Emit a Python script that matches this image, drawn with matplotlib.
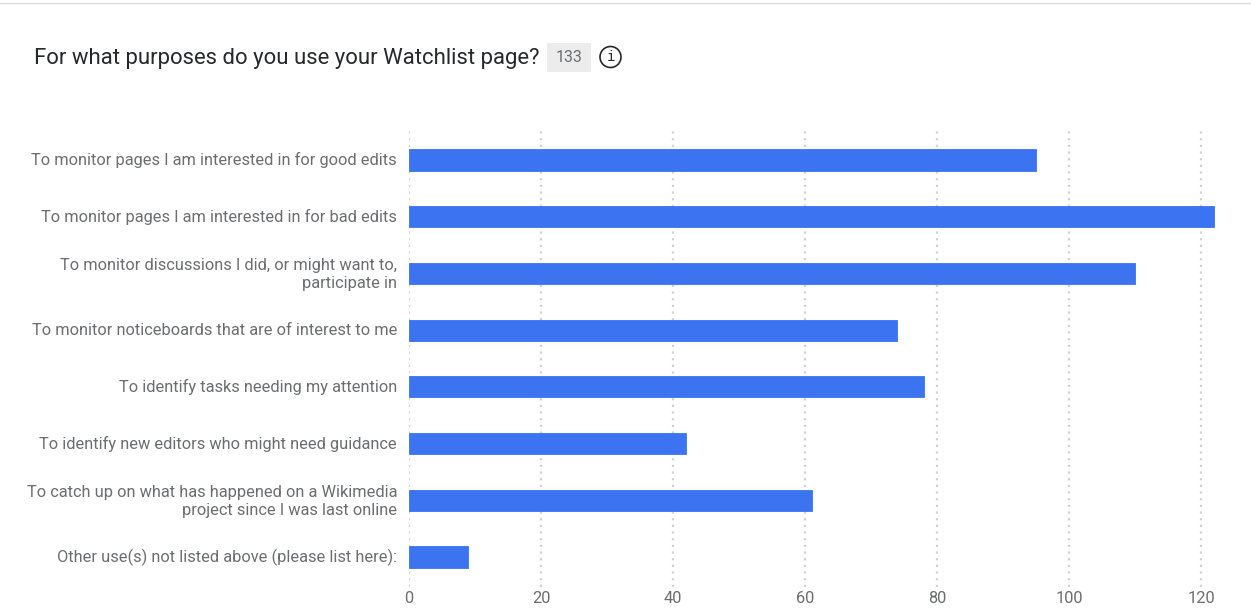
import matplotlib
matplotlib.use("Agg")
import matplotlib.pyplot as plt
from matplotlib.patches import Rectangle, Circle
from matplotlib.transforms import ScaledTranslation

categories = [
    "To monitor pages I am interested in for good edits",
    "To monitor pages I am interested in for bad edits",
    "To monitor discussions I did, or might want to,\nparticipate in",
    "To monitor noticeboards that are of interest to me",
    "To identify tasks needing my attention",
    "To identify new editors who might need guidance",
    "To catch up on what has happened on a Wikimedia\nproject since I was last online",
    "Other use(s) not listed above (please list here):",
]
values = [95, 122, 110, 74, 78, 42, 61, 9]
xticks = [0, 20, 40, 60, 80, 100, 120]
title = "For what purposes do you use your Watchlist page?"
count = "133"

W, H = 1251, 614
plt.rcParams['font.family'] = ['Roboto', 'DejaVu Sans']
fig = plt.figure(figsize=(W/100, H/100), dpi=100)
ax = fig.add_axes([409/W, 1-587/H, (1215-409)/W, (587-130)/H])
ypos = list(range(len(categories)))
ax.barh(ypos, values, height=0.375, color="#3b73f0", edgecolor="#3b73f0",
        linewidth=0.6, joinstyle='round', zorder=3)
ax.set_ylim(7.529, -0.529)
ax.set_xlim(0, 806/6.6)
ax.set_yticks(ypos)
ax.set_yticklabels(categories, fontsize=11.8, color="#6b6d70", linespacing=1.25)
ax.set_xticks(xticks)
ax.set_xticklabels(xticks, fontsize=11.8, color="#6b6d70")
ax.tick_params(axis='y', length=0, pad=8.6)
ax.tick_params(axis='x', length=0, pad=3.2)
shift = ScaledTranslation(0, 1.5/100, fig.dpi_scale_trans)
for lab in ax.get_yticklabels():
    lab.set_transform(lab.get_transform() + shift)
ax.grid(axis='x', color="#d0d2d5", linestyle=(0, (1, 2)), linewidth=1.6, zorder=0)
for s in ax.spines.values():
    s.set_visible(False)

fig.add_artist(plt.Line2D([0, 1], [1-3/H, 1-3/H], color="#dcdcdc", linewidth=1))
fig.text(34/W, 1-58.5/H, title, fontsize=15.9, color="#26282b", va='center')
fig.add_artist(Rectangle((547/W, 1-72/H), 44/W, 29/H, facecolor="#ececec",
                         edgecolor="none", transform=fig.transFigure))
fig.text(569/W, 1-58/H, count, fontsize=11.4, color="#6b6d70", va='center', ha='center')
fig.add_artist(Circle((610.5, H-57), 10.5, fill=False, edgecolor="#26282b", linewidth=1.2,
                      transform=None))
fig.text(610.5/W, 1-57/H, "i", fontsize=10, color="#26282b", va='center', ha='center',
         family='DejaVu Sans Mono')
fig.savefig("out.png", dpi=100, facecolor="white")
